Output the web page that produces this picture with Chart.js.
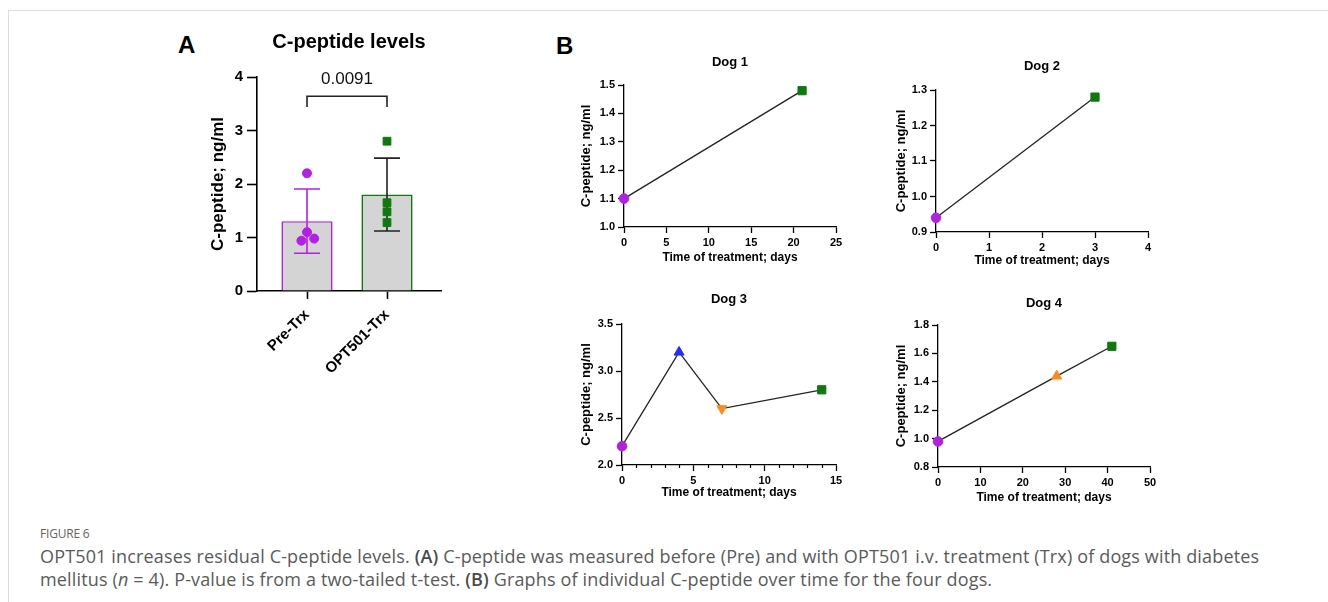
<!DOCTYPE html>
<html>
<head>
<meta charset="utf-8">
<script src="https://cdn.jsdelivr.net/npm/chart.js@4.4.1/dist/chart.umd.min.js"></script>
<style>
  html, body { margin: 0; padding: 0; background: #fff; }
  body { width: 1328px; height: 602px; position: relative; overflow: hidden; font-family: "Liberation Sans", Arial, sans-serif; }
  .frame { position: absolute; left: 8px; top: 10px; right: 0; bottom: 0; border-top: 1px solid #dcdcdc; border-left: 1px solid #dcdcdc; }
  canvas { position: absolute; }
  .letter { position: absolute; font-weight: bold; font-size: 24px; line-height: 24px; color: #000; }
  .fig { position: absolute; left: 40px; top: 526px; font-family: "Open Sans", sans-serif; font-size: 12px; line-height: 15px; letter-spacing: -0.2px; color: #6b625c; }
  .cap { position: absolute; left: 40px; top: 545px; font-family: "Open Sans", sans-serif; font-size: 18px; line-height: 23px; letter-spacing: 0.15px; color: #5a5a5a; white-space: nowrap; }
  .cap b { font-weight: 600; color: #4a4a4a; }
</style>
</head>
<body>
<div class="frame"></div>
<div class="letter" style="left:178px; top:33px;">A</div>
<div class="letter" style="left:556px; top:34px;">B</div>

<canvas id="panelA" width="262" height="370" style="left:196px; top:20px;"></canvas>
<canvas id="dog1" width="276" height="228" style="left:574px; top:42px;"></canvas>
<canvas id="dog2" width="276" height="227" style="left:886px; top:46px;"></canvas>
<canvas id="dog3" width="278" height="226" style="left:572px; top:279px;"></canvas>
<canvas id="dog4" width="276" height="227" style="left:888px; top:283px;"></canvas>

<div class="fig">FIGURE 6</div>
<div class="cap">OPT501 increases residual C-peptide levels. <b>(A)</b> C-peptide was measured before (Pre) and with OPT501 i.v. treatment (Trx) of dogs with diabetes<br>mellitus (<i>n</i> = 4). P-value is from a two-tailed t-test. <b>(B)</b> Graphs of individual C-peptide over time for the four dogs.</div>

<script>
// panel A: C-peptide per dog, before and with treatment
const groups = ["Pre-Trx", "OPT501-Trx"];
const preTrx = [1.10, 0.94, 2.20, 0.98];
const optTrx = [1.48, 1.28, 2.80, 1.65];
const preJitter = [0, -0.07, 0, 0.09];
const optJitter = [0, 0, 0, 0];
const pValue = "0.0091";
const yTicksA = [0, 4, 1];

// panel B: C-peptide over time for each dog
const dog1Days = [0, 21];
const dog1Values = [1.10, 1.48];
const dog2Days = [0, 3];
const dog2Values = [0.94, 1.28];
const dog3Days = [0, 4, 7, 14];
const dog3Values = [2.20, 3.20, 2.60, 2.80];
const dog4Days = [0, 28, 41];
const dog4Values = [0.98, 1.44, 1.65];

const purple = "#b41fe6";
const green = "#0c7a0c";
const orange = "#ff8a1c";
const blue = "#1f2eff";

Chart.defaults.font.family = "'Liberation Sans', Arial, sans-serif";
Chart.defaults.color = "#000";

const mean = a => a.reduce((s, v) => s + v, 0) / a.length;
const sd = a => { const m = mean(a); return Math.sqrt(a.reduce((s, v) => s + (v - m) * (v - m), 0) / (a.length - 1)); };
const stats = [preTrx, optTrx].map(a => ({ mean: mean(a), sd: sd(a) }));
const errColors = [purple, "#222"];

// error bars drawn right after the bars, below the dots
const errorBars = {
  id: "errorBars",
  afterDatasetDraw(chart, args) {
    if (args.meta.type !== "bar") return;
    const { ctx, scales: { x, y } } = chart;
    stats.forEach((s, i) => {
      const px = x.getPixelForValue(i);
      const top = y.getPixelForValue(s.mean + s.sd);
      const bot = y.getPixelForValue(s.mean - s.sd);
      ctx.save();
      ctx.strokeStyle = errColors[i];
      ctx.lineWidth = 1.6;
      ctx.beginPath();
      ctx.moveTo(px, top); ctx.lineTo(px, bot);
      ctx.moveTo(px - 13, top); ctx.lineTo(px + 13, top);
      ctx.moveTo(px - 13, bot); ctx.lineTo(px + 13, bot);
      ctx.stroke();
      ctx.restore();
    });
  }
};

// significance bracket between the two groups
const bracketFoot = 3.44, bracketTop = 3.64;
const sigBracket = {
  id: "sigBracket",
  afterDatasetsDraw(chart) {
    const { ctx, scales: { x, y } } = chart;
    const x0 = x.getPixelForValue(0), x1 = x.getPixelForValue(1);
    const yt = y.getPixelForValue(bracketTop), yf = y.getPixelForValue(bracketFoot);
    ctx.save();
    ctx.strokeStyle = "#222";
    ctx.lineWidth = 1.6;
    ctx.beginPath();
    ctx.moveTo(x0, yf); ctx.lineTo(x0, yt); ctx.lineTo(x1, yt); ctx.lineTo(x1, yf);
    ctx.stroke();
    ctx.fillStyle = "#111";
    ctx.font = "17px 'Liberation Sans', Arial, sans-serif";
    ctx.textAlign = "center";
    ctx.textBaseline = "middle";
    ctx.fillText(pValue, (x0 + x1) / 2, yt - 17);
    ctx.restore();
  }
};

new Chart(document.getElementById("panelA"), {
  type: "scatter",
  data: {
    datasets: [
      {
        type: "scatter",
        data: preTrx.map((v, i) => ({ x: 0 + preJitter[i], y: v })),
        pointStyle: "circle", pointRadius: 4.5,
        backgroundColor: purple, borderColor: purple, clip: false, order: 1
      },
      {
        type: "scatter",
        data: optTrx.map((v, i) => ({ x: 1 + optJitter[i], y: v })),
        pointStyle: "rect", pointRadius: 5.5,
        backgroundColor: green, borderColor: green, clip: false, order: 1
      },
      {
        type: "bar",
        data: stats.map((s, i) => ({ x: i, y: s.mean })),
        backgroundColor: "#d4d4d4",
        borderColor: [purple, green],
        borderWidth: 1.6,
        barPercentage: 0.8, categoryPercentage: 0.8,
        order: 2
      }
    ]
  },
  options: {
    responsive: false,
    animation: false,
    layout: { padding: { left: 0, top: 0, right: 17, bottom: 0 } },
    plugins: {
      legend: { display: false },
      tooltip: { enabled: false },
      title: {
        display: true, text: "C-peptide levels", fullSize: false, color: "#000",
        font: { size: 20, weight: "bold" }, padding: { top: 10, bottom: 23 }
      }
    },
    scales: {
      x: {
        type: "linear", min: -0.625, max: 1.675, offset: false,
        afterBuildTicks: s => { s.ticks = groups.map((g, i) => ({ value: i })); },
        afterFit: s => { s.height = 99; s.paddingLeft = 0; s.paddingRight = 0; },
        ticks: {
          callback: v => groups[v], minRotation: 45, maxRotation: 45, autoSkip: false,
          font: { size: 15, weight: "bold" }, padding: 7, color: "#000"
        },
        grid: { drawOnChartArea: false, offset: false, tickLength: 8, tickColor: "#000", tickWidth: 1.6 },
        border: { color: "#000", width: 1.6 }
      },
      y: {
        min: yTicksA[0], max: yTicksA[1],
        afterFit: s => { s.width = 61; s.paddingTop = 0; s.paddingBottom = 0; },
        ticks: { stepSize: yTicksA[2], font: { size: 15, weight: "bold" }, padding: 4, color: "#000" },
        grid: { drawOnChartArea: false, tickLength: 10, tickColor: "#000", tickWidth: 1.6 },
        border: { color: "#000", width: 1.6 },
        title: { display: true, text: "C-peptide; ng/ml", font: { size: 17, weight: "bold" }, padding: { top: 12 }, color: "#000" }
      }
    }
  },
  plugins: [errorBars, sigBracket]
});

// short unlabelled ticks between the labelled ones
const minorTicks = {
  id: "minorTicks",
  afterDraw(chart, args, opts) {
    if (!opts.step) return;
    const { ctx, scales: { x }, chartArea } = chart;
    ctx.save();
    ctx.strokeStyle = "#000";
    ctx.lineWidth = 1.2;
    ctx.beginPath();
    for (let v = x.min; v <= x.max; v += opts.step) {
      if (Math.abs(v / opts.major - Math.round(v / opts.major)) < 1e-6) continue;
      const px = Math.round(x.getPixelForValue(v)) + 0.5;
      ctx.moveTo(px, chartArea.bottom);
      ctx.lineTo(px, chartArea.bottom + 3);
    }
    ctx.stroke();
    ctx.restore();
  }
};

const radiusFor = { circle: 4.8, rect: 5.8, triangle: 5.8 };

function dogChart(id, o) {
  return new Chart(document.getElementById(id), {
    type: "line",
    data: {
      datasets: [{
        data: o.days.map((d, i) => ({ x: d, y: o.values[i] })),
        borderColor: "#222", borderWidth: 1.3, tension: 0,
        pointStyle: o.styles, pointRotation: o.rotations,
        pointBackgroundColor: o.colors, pointBorderColor: o.colors,
        pointRadius: o.styles.map(s => radiusFor[s]), pointBorderWidth: 1,
        clip: false
      }]
    },
    options: {
      responsive: false,
      animation: false,
      layout: { padding: { left: 0, top: 0, right: 14, bottom: 0 } },
      plugins: {
        legend: { display: false },
        tooltip: { enabled: false },
        title: {
          display: true, text: o.title, fullSize: false, color: "#000",
          font: { size: 13, weight: "bold" }, padding: { top: 12.2, bottom: o.titleGap }
        },
        minorTicks: o.minor || {}
      },
      scales: {
        x: {
          type: "linear", min: o.xRange[0], max: o.xRange[1],
          afterFit: s => { s.height = o.xAxisH; s.paddingLeft = 0; s.paddingRight = 0; },
          ticks: { stepSize: o.xRange[2], font: { size: 11, weight: "bold" }, padding: 3, color: "#000", autoSkip: false, maxRotation: 0 },
          grid: { drawOnChartArea: false, tickLength: 6, tickColor: "#000", tickWidth: 1.3 },
          border: { color: "#000", width: 1.3 },
          title: { display: true, text: "Time of treatment; days", font: { size: 12, weight: "bold" }, padding: { top: 0, bottom: 4.8 }, color: "#000" }
        },
        y: {
          min: o.yRange[0], max: o.yRange[1],
          afterFit: s => { s.width = 50; s.paddingTop = 0; s.paddingBottom = 0; },
          ticks: { stepSize: o.yRange[2], callback: v => v.toFixed(1), font: { size: 11, weight: "bold" }, padding: 3, color: "#000" },
          grid: { drawOnChartArea: false, tickLength: 6, tickColor: "#000", tickWidth: 1.3 },
          border: { color: "#000", width: 1.3 },
          title: { display: true, text: "C-peptide; ng/ml", font: { size: 13, weight: "bold" }, padding: { top: o.yTitlePad }, color: "#000" }
        }
      }
    },
    plugins: [minorTicks]
  });
}

dogChart("dog1", {
  title: "Dog 1", days: dog1Days, values: dog1Values,
  styles: ["circle", "rect"], rotations: [0, 0], colors: [purple, green],
  xRange: [0, 25, 5], yRange: [1.0, 1.5, 0.1],
  titleGap: 15.2, xAxisH: 43, yTitlePad: 5
});
dogChart("dog2", {
  title: "Dog 2", days: dog2Days, values: dog2Values,
  styles: ["circle", "rect"], rotations: [0, 0], colors: [purple, green],
  xRange: [0, 4, 1], yRange: [0.9, 1.3, 0.1],
  titleGap: 16.2, xAxisH: 41, yTitlePad: 8
});
dogChart("dog3", {
  title: "Dog 3", days: dog3Days, values: dog3Values,
  styles: ["circle", "triangle", "triangle", "rect"], rotations: [0, 0, 180, 0],
  colors: [purple, blue, orange, green],
  xRange: [0, 15, 5], yRange: [2.0, 3.5, 0.5],
  titleGap: 17.2, xAxisH: 40, yTitlePad: 6.5,
  minor: { step: 1, major: 5 }
});
dogChart("dog4", {
  title: "Dog 4", days: dog4Days, values: dog4Values,
  styles: ["circle", "triangle", "rect"], rotations: [0, 0, 0],
  colors: [purple, orange, green],
  xRange: [0, 50, 10], yRange: [0.8, 1.8, 0.2],
  titleGap: 14.2, xAxisH: 43, yTitlePad: 6
});
</script>
</body>
</html>
